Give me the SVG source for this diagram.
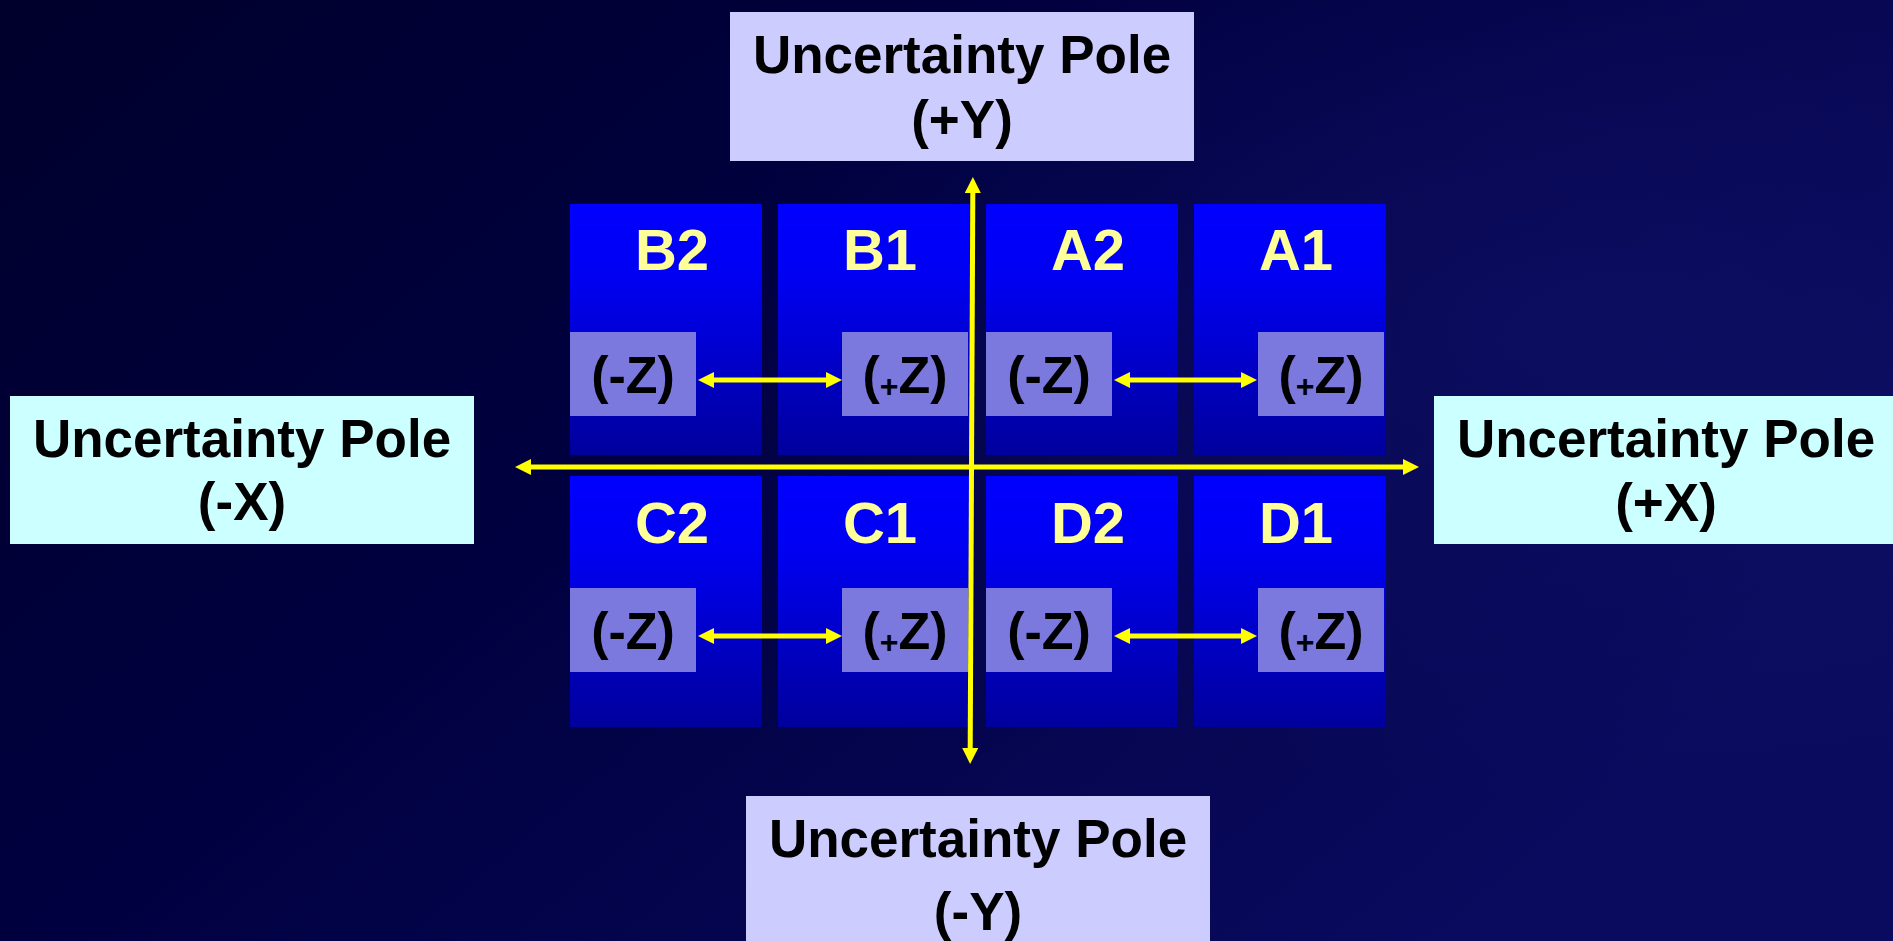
<svg xmlns="http://www.w3.org/2000/svg" width="1893" height="941" viewBox="0 0 1893 941">
<defs>
<linearGradient id="bg" x1="0" y1="0" x2="1" y2="0.6">
<stop offset="0" stop-color="#00002c"/>
<stop offset="0.45" stop-color="#000040"/>
<stop offset="1" stop-color="#0a0a5e"/>
</linearGradient>
<radialGradient id="glow" cx="0.85" cy="0.35" r="0.5">
<stop offset="0" stop-color="#12126a" stop-opacity="0.6"/>
<stop offset="1" stop-color="#12126a" stop-opacity="0"/>
</radialGradient>
<linearGradient id="cell" x1="0" y1="0" x2="0" y2="1">
<stop offset="0" stop-color="#0000ff"/>
<stop offset="0.3" stop-color="#0000f2"/>
<stop offset="1" stop-color="#00009c"/>
</linearGradient>
<marker id="ah" viewBox="0 -8 16 16" refX="0" refY="0" markerWidth="16" markerHeight="16" markerUnits="userSpaceOnUse" orient="auto-start-reverse">
<path d="M0,-8 L16,0 L0,8 z" fill="#ffff00"/>
</marker>
<style>
.cell{fill:url(#cell)}
.zbox{fill:#7b79dd}
.ttl{font-family:"Liberation Sans",Arial,sans-serif;font-weight:bold;font-size:58px;fill:#ffff99;text-anchor:middle}
.zt{font-family:"Liberation Sans",Arial,sans-serif;font-weight:bold;font-size:52px;fill:#000000;text-anchor:middle}
.pt{font-family:"Liberation Sans",Arial,sans-serif;font-weight:bold;font-size:53px;fill:#000000;text-anchor:middle}
.poleY{fill:#ccccff}
.poleX{fill:#ccffff}
.ax{stroke:#ffff00;stroke-width:5;fill:none;marker-start:url(#ah);marker-end:url(#ah)}
.za{stroke:#ffff00;stroke-width:5;fill:none;marker-start:url(#ah);marker-end:url(#ah)}
</style>
</defs>
<rect x="0" y="0" width="1893" height="941" fill="url(#bg)"/>
<rect x="0" y="0" width="1893" height="941" fill="url(#glow)"/>

<g id="pole-plus-y">
<rect class="poleY" x="730" y="12" width="464" height="149"/>
<text class="pt" x="962" y="73">Uncertainty Pole</text>
<text class="pt" x="962" y="138">(+Y)</text>
</g>
<g id="pole-minus-y">
<rect class="poleY" x="746" y="796" width="464" height="150"/>
<text class="pt" x="978" y="857">Uncertainty Pole</text>
<text class="pt" x="978" y="930">(-Y)</text>
</g>
<g id="pole-minus-x">
<rect class="poleX" x="10" y="396" width="464" height="148"/>
<text class="pt" x="242" y="457">Uncertainty Pole</text>
<text class="pt" x="242" y="520">(-X)</text>
</g>
<g id="pole-plus-x">
<rect class="poleX" x="1434" y="396" width="464" height="148"/>
<text class="pt" x="1666" y="457">Uncertainty Pole</text>
<text class="pt" x="1666" y="521">(+X)</text>
</g>

<g id="cell-B2">
<rect class="cell" x="570" y="204" width="192" height="251"/>
<text class="ttl" x="672" y="270">B2</text>
<rect class="zbox" x="570" y="332" width="126" height="84"/>
<text class="zt" x="633" y="393">(-Z)</text>
</g>
<g id="cell-B1">
<rect class="cell" x="778" y="204" width="192" height="251"/>
<text class="ttl" x="880" y="270">B1</text>
<rect class="zbox" x="842" y="332" width="126" height="84"/>
<text class="zt" x="905" y="393">(<tspan font-size="32" dy="4">+</tspan><tspan dy="-4">Z)</tspan></text>
</g>
<g id="cell-A2">
<rect class="cell" x="986" y="204" width="192" height="251"/>
<text class="ttl" x="1088" y="270">A2</text>
<rect class="zbox" x="986" y="332" width="126" height="84"/>
<text class="zt" x="1049" y="393">(-Z)</text>
</g>
<g id="cell-A1">
<rect class="cell" x="1194" y="204" width="192" height="251"/>
<text class="ttl" x="1296" y="270">A1</text>
<rect class="zbox" x="1258" y="332" width="126" height="84"/>
<text class="zt" x="1321" y="393">(<tspan font-size="32" dy="4">+</tspan><tspan dy="-4">Z)</tspan></text>
</g>
<g id="cell-C2">
<rect class="cell" x="570" y="476" width="192" height="251"/>
<text class="ttl" x="672" y="543">C2</text>
<rect class="zbox" x="570" y="588" width="126" height="84"/>
<text class="zt" x="633" y="649">(-Z)</text>
</g>
<g id="cell-C1">
<rect class="cell" x="778" y="476" width="192" height="251"/>
<text class="ttl" x="880" y="543">C1</text>
<rect class="zbox" x="842" y="588" width="126" height="84"/>
<text class="zt" x="905" y="649">(<tspan font-size="32" dy="4">+</tspan><tspan dy="-4">Z)</tspan></text>
</g>
<g id="cell-D2">
<rect class="cell" x="986" y="476" width="192" height="251"/>
<text class="ttl" x="1088" y="543">D2</text>
<rect class="zbox" x="986" y="588" width="126" height="84"/>
<text class="zt" x="1049" y="649">(-Z)</text>
</g>
<g id="cell-D1">
<rect class="cell" x="1194" y="476" width="192" height="251"/>
<text class="ttl" x="1296" y="543">D1</text>
<rect class="zbox" x="1258" y="588" width="126" height="84"/>
<text class="zt" x="1321" y="649">(<tspan font-size="32" dy="4">+</tspan><tspan dy="-4">Z)</tspan></text>
</g>

<g id="connectors">
<line class="ax" x1="531" y1="467" x2="1403" y2="467"/>
<line class="ax" x1="972.8" y1="193" x2="970.2" y2="748"/>
<line class="za" x1="714" y1="380" x2="826" y2="380"/>
<line class="za" x1="1130" y1="380" x2="1241" y2="380"/>
<line class="za" x1="714" y1="636" x2="826" y2="636"/>
<line class="za" x1="1130" y1="636" x2="1241" y2="636"/>
</g>
</svg>
